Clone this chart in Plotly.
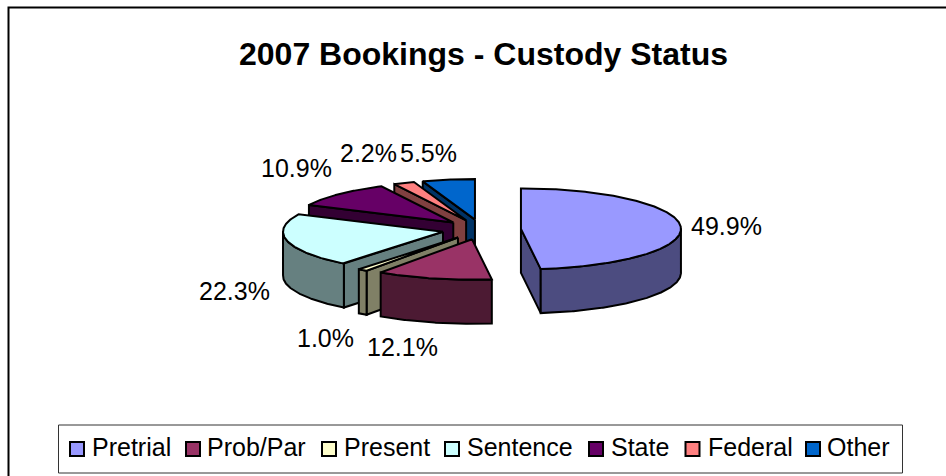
import numpy as np
import plotly.graph_objects as go

# ---- data ----
categories = ["Pretrial", "Prob/Par", "Present", "Sentence", "State", "Federal", "Other"]
percent_values = [49.9, 12.1, 1.0, 22.3, 10.9, 2.2, 5.5]
top_colors = ["#9999FF", "#993366", "#FFFFCC", "#CCFFFF", "#660066", "#FF8080", "#0066CC"]
side_colors = ["#4C4C80", "#4C1A33", "#808066", "#668080", "#330033", "#804040", "#003366"]
title_text = "2007 Bookings - Custody Status"

# ---- layout constants (pixels of the 946x476 page) ----
W, H = 946, 476
CX, CY = 481.5, 229.5     # pie centre
RX, RY = 160.0, 40.5      # ellipse radii of the tilted pie
DEPTH = 44.0              # thickness
EXPLODE = 0.247           # explosion, share of the radius
FONT = "Liberation Sans, Arial, sans-serif"
LABEL_POS = [(726, 226), (402, 347), (325, 338), (234, 291), (296, 168), (368, 153), (428, 153)]
LEGEND_SQUARE_X = [77, 193, 329, 452, 596, 692.5, 813]
LEGEND_Y = 449
LEGEND_TEXT_Y = 447
LEGEND_TEXT_X = [92, 207, 344, 467, 611, 708, 827]

fractions = np.array(percent_values) / sum(percent_values)
edges = np.concatenate([[0.0], np.cumsum(fractions)]) * 360.0


def project(theta_deg, radius, ox, oy):
    t = np.radians(theta_deg)
    return ox + radius * RX * np.sin(t), oy - radius * RY * np.cos(t)


def add_poly(fig, xs, ys, color):
    fig.add_trace(go.Scatter(
        x=list(xs) + [xs[0]], y=list(ys) + [ys[0]], mode="lines", fill="toself",
        fillcolor=color, line=dict(color="#000000", width=2),
        hoverinfo="skip", showlegend=False))


fig = go.Figure()

# back slices first
order = sorted(range(len(categories)),
               key=lambda i: -np.cos(np.radians((edges[i] + edges[i + 1]) / 2)))
for i in order:
    a, b = edges[i], edges[i + 1]
    mid = (a + b) / 2
    ox, oy = project(mid, EXPLODE, CX, CY)
    arc = np.linspace(a, b, max(int(b - a) * 2, 4))
    ax, ay = project(arc, 1.0, ox, oy)

    # radial cut faces that face the viewer
    for edge, visible in ((a, np.sin(np.radians(a)) < 0), (b, np.sin(np.radians(b)) > 0)):
        if visible:
            px, py = project(edge, 1.0, ox, oy)
            add_poly(fig, [ox, px, px, ox], [oy, py, py + DEPTH, oy + DEPTH], side_colors[i])

    # outer wall on the front half of the ellipse
    front = arc[np.cos(np.radians(arc)) < 0.02]
    if len(front) > 1:
        fx, fy = project(front, 1.0, ox, oy)
        add_poly(fig, np.concatenate([fx, fx[::-1]]),
                 np.concatenate([fy, fy[::-1] + DEPTH]), side_colors[i])

    # top face
    add_poly(fig, np.concatenate([[ox], ax]), np.concatenate([[oy], ay]), top_colors[i])

# percentage labels
for v, (lx, ly) in zip(percent_values, LABEL_POS):
    fig.add_annotation(x=lx, y=ly, text=f"{v:.1f}%", showarrow=False,
                       xanchor="center", yanchor="middle",
                       font=dict(family=FONT, size=25, color="#000000"))

# legend entries
for name, color, sx, tx in zip(categories, top_colors, LEGEND_SQUARE_X, LEGEND_TEXT_X):
    fig.add_trace(go.Scatter(
        x=[sx], y=[LEGEND_Y], mode="markers",
        marker=dict(symbol="square", size=14, color=color, line=dict(color="#000000", width=2)),
        hoverinfo="skip", showlegend=False, name=name))
    fig.add_annotation(x=tx, y=LEGEND_TEXT_Y, text=name, showarrow=False,
                       xanchor="left", yanchor="middle", xshift=-2,
                       font=dict(family=FONT, size=25, color="#000000"))

fig.add_annotation(x=W / 2 + 10.5, y=54, text=f"<b>{title_text}</b>", showarrow=False,
                   xanchor="center", yanchor="middle",
                   font=dict(family=FONT, size=32, color="#000000"))

fig.update_layout(
    width=W, height=H, margin=dict(l=0, r=0, t=0, b=0),
    paper_bgcolor="#FFFFFF", plot_bgcolor="#FFFFFF", showlegend=False,
    xaxis=dict(range=[0, W], visible=False, fixedrange=True),
    yaxis=dict(range=[H, 0], visible=False, fixedrange=True),
    shapes=[
        dict(type="rect", x0=8.5, y0=7.5, x1=W + 10, y1=H + 10, xref="x", yref="y",
             line=dict(color="#000000", width=2), layer="below"),
        dict(type="rect", x0=58.5, y0=425, x1=902.5, y1=473, xref="x", yref="y",
             line=dict(color="#333333", width=1), layer="below"),
    ],
)
fig.write_html("out.html", config={"displayModeBar": False},
               post_script="document.body.style.margin='0';document.body.style.overflow='hidden';")
